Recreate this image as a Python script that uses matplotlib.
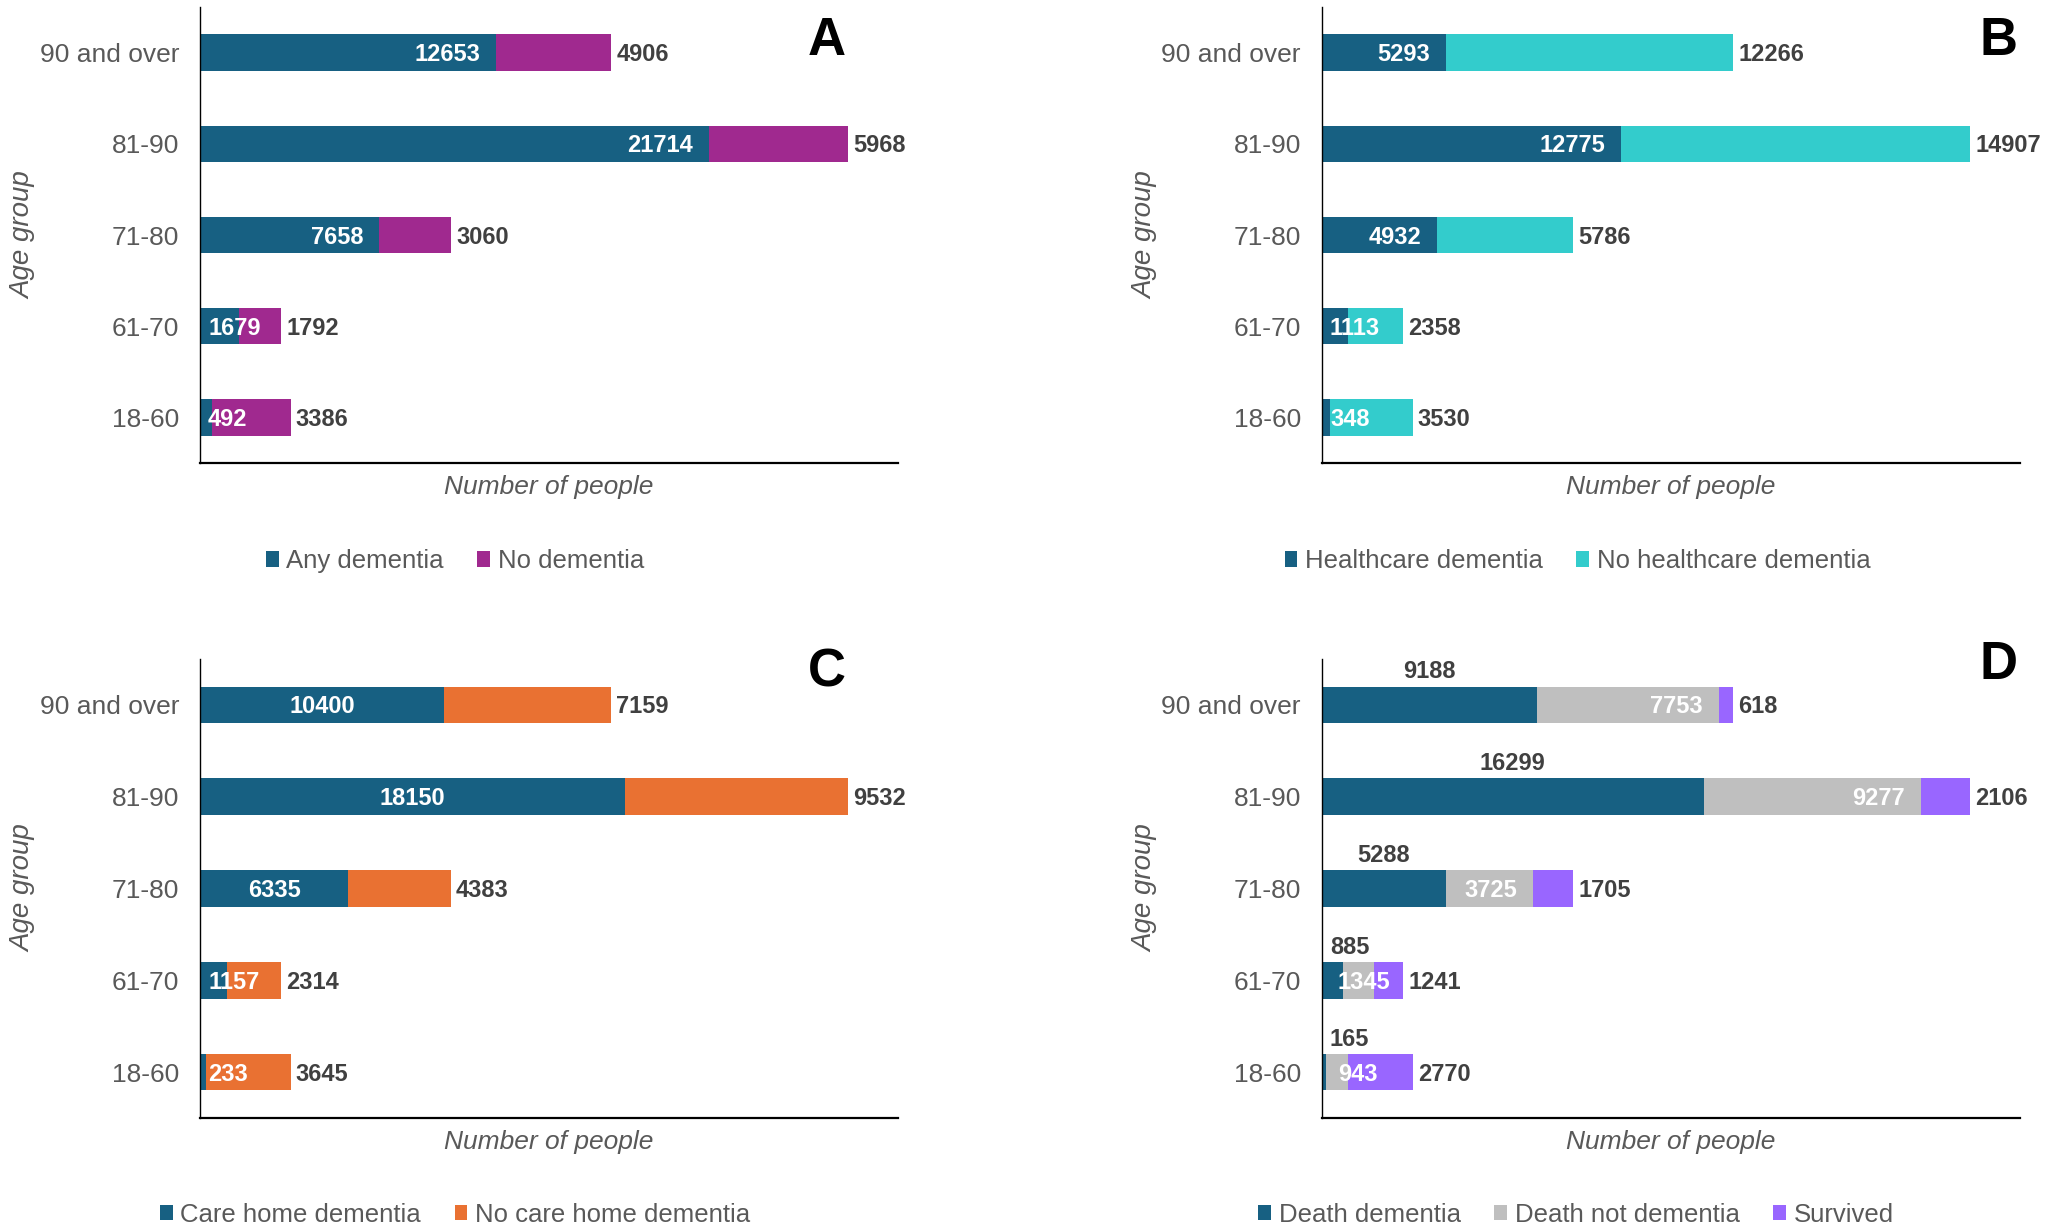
import matplotlib
matplotlib.use('Agg')
import matplotlib.pyplot as plt

plt.rcParams['font.family'] = ['Liberation Sans', 'DejaVu Sans']

age_groups = ['18-60', '61-70', '71-80', '81-90', '90 and over']

any_dementia = [492, 1679, 7658, 21714, 12653]
no_dementia = [3386, 1792, 3060, 5968, 4906]

healthcare_dementia = [348, 1113, 4932, 12775, 5293]
no_healthcare_dementia = [3530, 2358, 5786, 14907, 12266]

care_home_dementia = [233, 1157, 6335, 18150, 10400]
no_care_home_dementia = [3645, 2314, 4383, 9532, 7159]

death_dementia = [165, 885, 5288, 16299, 9188]
death_not_dementia = [943, 1345, 3725, 9277, 7753]
survived = [2770, 1241, 1705, 2106, 618]

DARK_BLUE = '#176082'
MAGENTA = '#A0298F'
CYAN = '#33CCCC'
ORANGE = '#E97132'
GREY = '#BFBFBF'
PURPLE = '#9966FF'
TEXT_GREY = '#595959'
LABEL_DARK = '#404040'

DPI = 100
XMAX = 29800
LABEL_FS = 17
PX = 72.0 / DPI   # points per pixel
DY = -2 * PX      # labels sit a touch below the bar centre


def draw_panel(ax, series, names, colors, modes, ax_width_px):
    left = [0] * len(age_groups)
    ypos = range(len(age_groups))
    for i, (vals, name, color, mode) in enumerate(zip(series, names, colors, modes)):
        ax.barh(ypos, vals, left=left, height=0.4, color=color, label=name)
        for y, v, l in zip(ypos, vals, left):
            seg_px = v / XMAX * ax_width_px
            lab_px = len(str(v)) * 0.556 * LABEL_FS / PX
            small = seg_px < lab_px + 32
            if mode == 'outside':
                ax.annotate(str(v), (l + v, y), xytext=(5 * PX, DY),
                            textcoords='offset points', ha='left', va='center',
                            fontsize=LABEL_FS, fontweight='bold', color=LABEL_DARK)
            elif mode == 'above':
                if small:
                    ax.annotate(str(v), (0, y), xytext=(8 * PX, 33 * PX),
                                textcoords='offset points', ha='left', va='center',
                                fontsize=LABEL_FS, fontweight='bold', color=LABEL_DARK)
                else:
                    ax.annotate(str(v), (l + v / 2, y), xytext=(0, 33 * PX),
                                textcoords='offset points', ha='center', va='center',
                                fontsize=LABEL_FS, fontweight='bold', color=LABEL_DARK)
            elif small:
                ax.annotate(str(v), (0, y), xytext=(8 * (i + 1) * PX, DY),
                            textcoords='offset points', ha='left', va='center',
                            fontsize=LABEL_FS, fontweight='bold', color='white')
            elif mode == 'center':
                ax.annotate(str(v), (l + v / 2, y), xytext=(0, DY),
                            textcoords='offset points', ha='center', va='center',
                            fontsize=LABEL_FS, fontweight='bold', color='white')
            else:
                ax.annotate(str(v), (l + v, y), xytext=(-16 * PX, DY),
                            textcoords='offset points', ha='right', va='center',
                            fontsize=LABEL_FS, fontweight='bold', color='white')
        left = [a + b for a, b in zip(left, vals)]

    ax.set_xlim(0, XMAX)
    ax.set_ylim(-0.5, 4.5)
    ax.set_yticks(list(ypos))
    ax.set_yticklabels(age_groups)
    ax.set_xticks([])
    ax.tick_params(axis='y', length=0, pad=21 * PX, labelsize=19, labelcolor=TEXT_GREY)
    for s in ['top', 'right']:
        ax.spines[s].set_visible(False)
    ax.spines['left'].set_linewidth(1.0)
    ax.spines['bottom'].set_linewidth(1.6)
    ax.spines['left'].set_color('#000000')
    ax.spines['bottom'].set_color('#000000')
    ax.text(-0.253, 0.5, 'Age group', transform=ax.transAxes, rotation=90,
            ha='center', va='center', fontsize=20, style='italic', color=TEXT_GREY)
    ax.text(0.5, -0.027, 'Number of people', transform=ax.transAxes,
            ha='center', va='top', fontsize=19, style='italic', color=TEXT_GREY)


fig = plt.figure(figsize=(20.48, 12.32), dpi=DPI)

ax_w = 0.3408
panels = [
    (0.0977, 0.6242, 0.3701, [any_dementia, no_dementia],
     ['Any dementia', 'No dementia'], [DARK_BLUE, MAGENTA], ['end', 'outside'],
     (0.2222, 0.5446), 'A', (0.4038, 0.9554)),
    (0.6455, 0.6242, 0.3701, [healthcare_dementia, no_healthcare_dementia],
     ['Healthcare dementia', 'No healthcare dementia'], [DARK_BLUE, CYAN], ['end', 'outside'],
     (0.7703, 0.5446), 'B', (0.9756, 0.9554)),
    (0.0977, 0.0925, 0.3726, [care_home_dementia, no_care_home_dementia],
     ['Care home dementia', 'No care home dementia'], [DARK_BLUE, ORANGE], ['center', 'outside'],
     (0.2222, 0.0142), 'C', (0.4038, 0.4424)),
    (0.6455, 0.0925, 0.3726, [death_dementia, death_not_dementia, survived],
     ['Death dementia', 'Death not dementia', 'Survived'], [DARK_BLUE, GREY, PURPLE],
     ['above', 'end', 'outside'],
     (0.7695, 0.0142), 'D', (0.9756, 0.4489)),
]

for x0, y0, h, series, names, colors, modes, leg_pos, letter, let_pos in panels:
    ax = fig.add_axes([x0, y0, ax_w, h])
    draw_panel(ax, series, names, colors, modes, ax_w * 2048)
    ax.legend(loc='center', bbox_to_anchor=leg_pos, bbox_transform=fig.transFigure,
              ncol=len(names), frameon=False, fontsize=18.5, labelcolor=TEXT_GREY,
              handlelength=0.5, handleheight=0.55, handletextpad=0.3,
              columnspacing=1.3, borderpad=0, borderaxespad=0)
    fig.text(let_pos[0], let_pos[1], letter, ha='center', va='baseline',
             fontsize=38, fontweight='bold', color='black')

fig.savefig('out.png', dpi=DPI)
